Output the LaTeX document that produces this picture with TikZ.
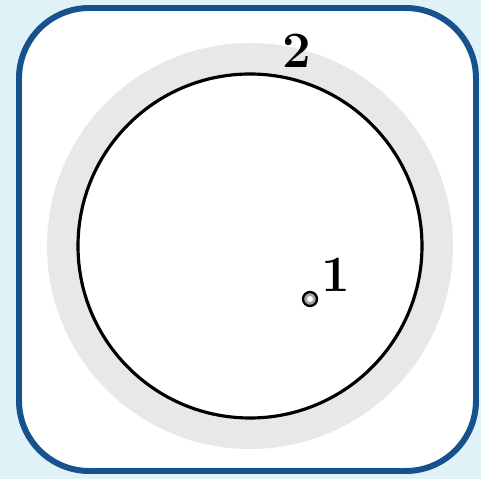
\documentclass[tikz,border=0pt]{standalone}
\usepackage{xcolor}
\definecolor{ringbg}{RGB}{223,242,247}
\definecolor{ringblue}{RGB}{22,82,142}
\definecolor{ringgray}{RGB}{232,232,232}
\definecolor{dotgray}{RGB}{165,165,165}
\usepackage{tikz}
\usetikzlibrary{positioning}

\begin{document}
\begin{tikzpicture}[x=0.02cm, y=-0.02cm]
  % Background and frame
  \fill[ringbg] (0,0) rectangle (481,479);
  \useasboundingbox (0,0) rectangle (481,479);
  \draw[line width=3.4pt, ringblue, fill=white, rounded corners=40] (19,8) rectangle (476,471);

  % Gray band and orbit circle
  \fill[ringgray] (250,246) circle (203);
  \draw[line width=1.8pt, black, fill=white] (250,246) circle (172);

  % Point 1
  \draw[line width=1.3pt, black, fill=dotgray] (310,299) circle (7);
  \fill[white] (310,299) circle (3);
  \node[font=\fontsize{29}{31}\selectfont\bfseries] (one) at (336,275) {1};

  % Label 2 on the orbit
  \node[font=\fontsize{29}{31}\selectfont\bfseries] (two) at (297,51) {2};
\end{tikzpicture}
\end{document}
